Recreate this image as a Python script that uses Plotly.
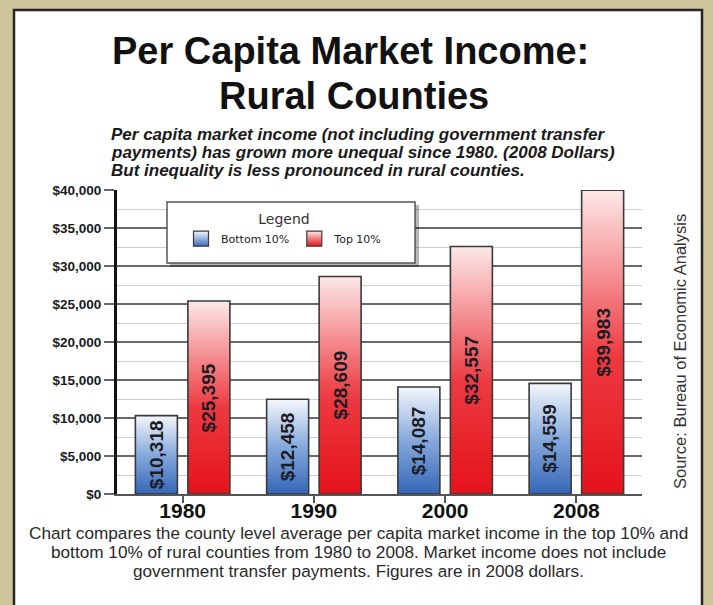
import plotly.graph_objects as go

# ---- data ----
years = ["1980", "1990", "2000", "2008"]
bottom_10 = [10318, 12458, 14087, 14559]
top_10 = [25395, 28609, 32557, 39983]
series_names = ["Bottom 10%", "Top 10%"]
y_tick_vals = [0, 5000, 10000, 15000, 20000, 25000, 30000, 35000, 40000]
y_tick_labels = ["$0", "$5,000", "$10,000", "$15,000", "$20,000", "$25,000",
                 "$30,000", "$35,000", "$40,000"]

title_lines = ["Per Capita Market Income:", "Rural Counties"]
subtitle_lines = [
    "Per capita market income (not including government transfer",
    "payments) has grown more unequal since 1980. (2008 Dollars)",
    "But inequality is less pronounced in rural counties.",
]
caption_lines = [
    "Chart compares the county level average per capita market income in the top 10% and",
    "bottom 10% of rural counties from 1980 to 2008. Market income does not include",
    "government transfer payments. Figures are in 2008 dollars.",
]
source_text = "Source: Bureau of Economic Analysis"

# ---- layout geometry (pixels) ----
W, H = 713, 605
L, R, T, B = 117, 71, 190, 111
PW, PH = W - L - R, H - T - B


def px(x):
    return (x - L) / PW


def py(y):
    return (H - B - y) / PH


BAR_W = 0.32
OFFSET = 0.2
ARIAL = "Arial, Liberation Sans, Helvetica, sans-serif"

blue_scale = [[0, "#3467b8"], [0.5, "#86a9dc"], [1, "#f4f7fc"]]
red_scale = [[0, "#e5121a"], [0.45, "#ec3a40"], [1, "#fde8e8"]]
legend_cols = [("#f2f6fc", "#3a6cc0"), ("#fde6e6", "#e5121a")]

fig = go.Figure()

for s, (vals, scale, off) in enumerate([(bottom_10, blue_scale, -OFFSET),
                                        (top_10, red_scale, OFFSET)]):
    for i, v in enumerate(vals):
        c = i + off
        x0, x1 = c - BAR_W / 2, c + BAR_W / 2
        fig.add_trace(go.Scatter(
            x=[x0, x0, x1, x1, x0],
            y=[0, v, v, 0, 0],
            mode="lines",
            fill="toself",
            fillgradient=dict(type="vertical", colorscale=scale),
            line=dict(color="#3a3a3a", width=1.6),
            name=series_names[s],
            legendgroup=series_names[s],
            showlegend=False,
            hoverinfo="skip",
        ))
        fig.add_annotation(
            x=c, y=v / 2, xref="x", yref="y",
            text="<b>${:,}</b>".format(v), textangle=-90, showarrow=False,
            font=dict(family=ARIAL, size=19, color="#1c1c24"),
        )

# legend-only entries
for s in range(2):
    top_c, bot_c = legend_cols[s]
    fig.add_trace(go.Scatter(
        x=[None], y=[None], mode="markers",
        name=series_names[s], legendgroup=series_names[s], showlegend=True,
        marker=dict(symbol="square", size=15, color=top_c,
                    gradient=dict(type="vertical", color=bot_c),
                    line=dict(color="#3a3a3a", width=1.2)),
    ))

shapes = []
# white panel
shapes.append(dict(type="rect", xref="paper", yref="paper", layer="below",
                   x0=px(14), x1=px(702), y0=py(10), y1=py(640),
                   fillcolor="white", line=dict(color="#262626", width=2.5)))
# legend box shadow and box
shapes.append(dict(type="rect", xref="paper", yref="paper",
                   x0=px(170), x1=px(419), y0=py(205), y1=py(267),
                   fillcolor="rgba(0,0,0,0.28)", line=dict(width=0)))
shapes.append(dict(type="rect", xref="paper", yref="paper",
                   x0=px(167), x1=px(415), y0=py(202), y1=py(263),
                   fillcolor="white", line=dict(color="#555555", width=1.5)))

annotations = []
annotations.append(dict(xref="paper", yref="paper", x=px(350), y=py(51),
                        text="<b>" + title_lines[0] + "</b>", showarrow=False,
                        font=dict(family=ARIAL, size=38, color="#111111"),
                        xanchor="center", yanchor="middle"))
annotations.append(dict(xref="paper", yref="paper", x=px(354), y=py(96),
                        text="<b>" + title_lines[1] + "</b>", showarrow=False,
                        font=dict(family=ARIAL, size=38, color="#111111"),
                        xanchor="center", yanchor="middle"))
for k, line in enumerate(subtitle_lines):
    annotations.append(dict(xref="paper", yref="paper", x=px(109),
                            y=py(134 + 18.3 * k),
                            text="<b><i>" + line + "</i></b>", showarrow=False,
                            font=dict(family=ARIAL, size=17, color="#1a1a1a"),
                            xanchor="left", yanchor="middle", align="left"))
for k, line in enumerate(caption_lines):
    annotations.append(dict(xref="paper", yref="paper", x=px(358),
                            y=py(533 + 19 * k),
                            text=line, showarrow=False,
                            font=dict(family=ARIAL, size=17.2, color="#2a2a2a"),
                            xanchor="center", yanchor="middle"))
annotations.append(dict(xref="paper", yref="paper", x=px(680), y=py(352),
                        text=source_text, textangle=-90, showarrow=False,
                        font=dict(family=ARIAL, size=16.5, color="#333333"),
                        xanchor="center", yanchor="middle"))

for a in annotations:
    fig.add_annotation(**a)

fig.update_layout(
    width=W, height=H,
    margin=dict(l=L, r=R, t=T, b=B, autoexpand=False),
    paper_bgcolor="#cdc59b",
    plot_bgcolor="rgba(0,0,0,0)",
    shapes=shapes,
    showlegend=True,
    legend=dict(
        orientation="h",
        x=px(284), xanchor="center",
        y=py(206), yanchor="top",
        bgcolor="rgba(0,0,0,0)",
        title=dict(text="Legend", side="top center",
                   font=dict(family="DejaVu Sans", size=14, color="#333333")),
        font=dict(family="DejaVu Sans", size=11, color="#222222"),
        itemwidth=30,
        itemsizing="trace",
    ),
    xaxis=dict(
        range=[-0.5, 3.5],
        tickvals=list(range(len(years))),
        ticktext=["<b>" + y + "</b>" for y in years],
        tickfont=dict(family=ARIAL, size=21, color="#111111"),
        ticks="outside", ticklen=7, tickwidth=1.5, tickcolor="#555555",
        ticklabelstandoff=-10,
        showgrid=False, zeroline=False,
        showline=True, linecolor="#555555", linewidth=2,
        fixedrange=True,
    ),
    yaxis=dict(
        range=[0, 40000],
        tickvals=y_tick_vals,
        ticktext=["<b>" + t + "</b>" for t in y_tick_labels],
        tickfont=dict(family=ARIAL, size=13.5, color="#1a1a1a"),
        ticks="outside", ticklen=10, tickwidth=2, tickcolor="#666666",
        showgrid=True, gridcolor="#6a6a6a", gridwidth=2,
        minor=dict(dtick=2500, tick0=0, showgrid=True,
                   gridcolor="#cfcfcf", gridwidth=1.3),
        zeroline=False,
        showline=True, linecolor="#111111", linewidth=3,
        fixedrange=True,
    ),
)

fig.write_html("out.html")
